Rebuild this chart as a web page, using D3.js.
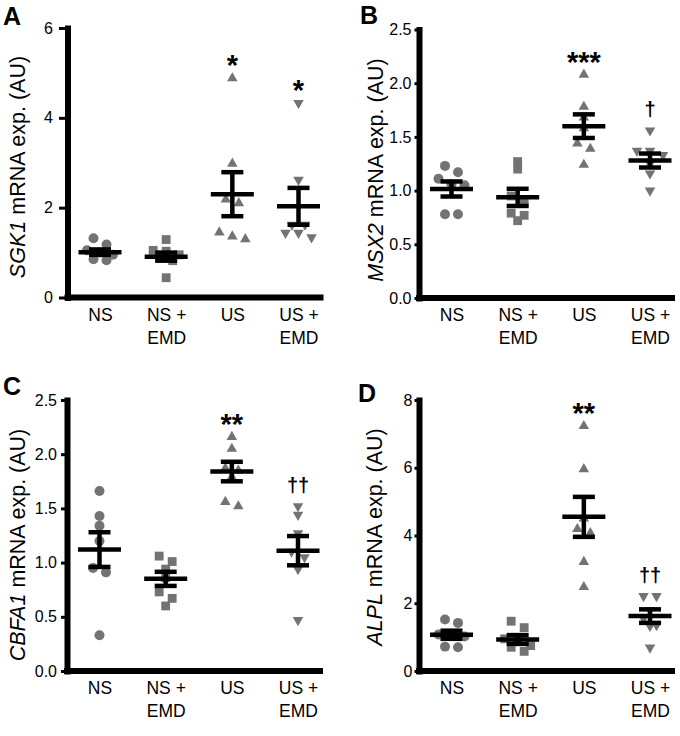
<!DOCTYPE html>
<html>
<head>
<meta charset="utf-8">
<script src="https://cdn.jsdelivr.net/npm/d3@7"></script>
<style>
  body { margin: 0; background: #fff; }
  svg { display: block; font-family: "Liberation Sans", Arial, Helvetica, sans-serif; }
  .domain, .x-line { stroke: #000 !important; stroke-width: 6px !important; stroke-linecap: square; }
  .tick line { stroke: #000; stroke-width: 3px; }
  .err line { stroke: #000; stroke-width: 4.5px; }
</style>
</head>
<body>
<svg width="680" height="736"></svg>
<script>
// groups shared by all four panels
const groups = ["NS", "NS + EMD", "US", "US + EMD"];

// A: SGK1
const sgk1Values = [
    [1.32, 1.18, 1.05, 1.00, 0.95, 0.85, 0.83],
    [1.29, 1.05, 1.03, 0.95, 0.88, 0.82, 0.44],
    [4.88, 2.98, 2.18, 2.10, 1.45, 1.36, 1.30],
    [4.33, 2.62, 1.62, 1.62, 1.44, 1.44, 1.34]
];
const sgk1Mean = [1.01, 0.91, 2.30, 2.03];
const sgk1Sem = [0.06, 0.09, 0.49, 0.41];
const sgk1Marks = ["", "", "*", "*"];
const sgk1Ticks = [0, 2, 4, 6];

// B: MSX2
const msx2Values = [
    [1.23, 1.17, 1.11, 1.06, 1.05, 0.78, 0.78],
    [1.27, 1.20, 0.95, 0.90, 0.79, 0.77, 0.72],
    [2.08, 1.78, 1.68, 1.58, 1.44, 1.39, 1.24],
    [1.56, 1.37, 1.37, 1.33, 1.25, 1.16, 1.00]
];
const msx2Mean = [1.015, 0.937, 1.60, 1.28];
const msx2Sem = [0.07, 0.08, 0.11, 0.065];
const msx2Marks = ["", "", "***", "\u2020"];
const msx2Ticks = [0, 0.5, 1.0, 1.5, 2.0, 2.5];

// C: CBFA1
const cbfa1Values = [
    [1.66, 1.43, 1.34, 1.20, 0.95, 0.91, 0.33],
    [1.06, 1.01, 0.94, 0.86, 0.73, 0.67, 0.60],
    [2.16, 2.05, 1.87, 1.85, 1.79, 1.56, 1.52],
    [1.52, 1.44, 1.27, 1.10, 1.05, 0.94, 0.47]
];
const cbfa1Mean = [1.12, 0.85, 1.84, 1.11];
const cbfa1Sem = [0.16, 0.065, 0.09, 0.135];
const cbfa1Marks = ["", "", "**", "\u2020\u2020"];
const cbfa1Ticks = [0, 0.5, 1.0, 1.5, 2.0, 2.5];

// D: ALPL
const alplValues = [
    [1.52, 1.42, 1.08, 1.05, 1.02, 0.72, 0.70],
    [1.47, 1.28, 0.95, 0.90, 0.75, 0.70, 0.58],
    [7.23, 5.96, 4.50, 4.19, 4.07, 3.22, 2.48],
    [2.21, 2.21, 1.80, 1.55, 1.35, 1.33, 0.69]
];
const alplMean = [1.07, 0.93, 4.55, 1.62];
const alplSem = [0.12, 0.13, 0.59, 0.20];
const alplMarks = ["", "", "**", "\u2020\u2020"];
const alplTicks = [0, 2, 4, 6, 8];

const panels = [
    {letter: "A", gene: "SGK1", values: sgk1Values, mean: sgk1Mean, sem: sgk1Sem, marks: sgk1Marks,
     ticks: sgk1Ticks, fmt: d3.format("d"), max: 6,
     axisX: 67.5, yTop: 28, yBottom: 297.5, letterX: 3, letterY: 25, titleX: 25, titleY: 167, tickSize: 8.5, tickPad: 6},
    {letter: "B", gene: "MSX2", values: msx2Values, mean: msx2Mean, sem: msx2Sem, marks: msx2Marks,
     ticks: msx2Ticks, fmt: d3.format(".1f"), max: 2.5,
     axisX: 419, yTop: 29.5, yBottom: 298, letterX: 360, letterY: 24, titleX: 383, titleY: 170, tickSize: 4.5, tickPad: 3},
    {letter: "C", gene: "CBFA1", values: cbfa1Values, mean: cbfa1Mean, sem: cbfa1Sem, marks: cbfa1Marks,
     ticks: cbfa1Ticks, fmt: d3.format(".1f"), max: 2.5,
     axisX: 67, yTop: 400, yBottom: 671, letterX: 3, letterY: 395, titleX: 25, titleY: 545, tickSize: 6, tickPad: 4},
    {letter: "D", gene: "ALPL", values: alplValues, mean: alplMean, sem: alplSem, marks: alplMarks,
     ticks: alplTicks, fmt: d3.format("d"), max: 8,
     axisX: 419, yTop: 400, yBottom: 671, letterX: 358, letterY: 402, titleX: 382, titleY: 537, tickSize: 4.5, tickPad: 2}
];

const svg = d3.select("svg");
const grey = "#737373";
const spacing = 13;

// downward triangle = rotated d3 triangle
const shapes = [
    {type: d3.symbolCircle, size: 78, rot: 0},
    {type: d3.symbolSquare, size: 78, rot: 0},
    {type: d3.symbolTriangle, size: 48, rot: 0},
    {type: d3.symbolTriangle, size: 48, rot: 180}
];

// place points side by side when they'd overlap (Prism-like)
const dodge = (vals, y) => {
    const order = d3.range(vals.length).sort((a, b) => vals[b] - vals[a]);
    let rows = [];
    order.forEach(i => {
        let row = rows[rows.length - 1];
        if (row && y(vals[i]) - y(vals[row[0]]) < 7) row.push(i);
        else rows.push([i]);
    });
    let out = [];
    rows.forEach(row => {
        row.forEach((i, k) => out.push({v: vals[i], dx: (k - (row.length - 1) / 2) * spacing}));
    });
    return out;
};

panels.forEach(p => {
    let g = svg.append("g");

    let y = d3.scaleLinear()
        .domain([0, p.max])
        .range([p.yBottom, p.yTop]);
    let x = d3.scalePoint()
        .domain(groups)
        .range([p.axisX + 32.5, p.axisX + 231]);

    // panel letter
    g.append("text")
        .attr("x", p.letterX)
        .attr("y", p.letterY)
        .attr("font-size", "25px")
        .attr("font-weight", "bold")
        .text(p.letter);

    // y-axis title
    let title = g.append("text")
        .attr("transform", "translate(" + p.titleX + "," + p.titleY + ") rotate(-90)")
        .attr("text-anchor", "middle")
        .attr("font-size", "21.5px");
    title.append("tspan").attr("font-style", "italic").text(p.gene);
    title.append("tspan").text(" mRNA exp. (AU)");

    // y axis
    let yAxis = g.append("g")
        .attr("transform", "translate(" + p.axisX + ",0)")
        .call(d3.axisLeft(y)
            .tickValues(p.ticks)
            .tickFormat(p.fmt)
            .tickSize(p.tickSize)
            .tickSizeOuter(0)
            .tickPadding(p.tickPad));
    yAxis.selectAll(".tick text")
        .attr("font-size", "16px")
        .attr("font-family", "\"Liberation Sans\", Arial, sans-serif")
        .attr("fill", "#000");

    // x axis line
    g.append("line")
        .attr("class", "x-line")
        .attr("x1", p.axisX)
        .attr("x2", p.axisX + 253)
        .attr("y1", y(0))
        .attr("y2", y(0));

    // x labels, two lines
    let xAxis = g.append("g")
        .attr("transform", "translate(0," + y(0) + ")")
        .call(d3.axisBottom(x).tickSize(0).tickPadding(11));
    xAxis.select(".domain").remove();
    xAxis.selectAll(".tick text")
        .attr("font-size", "17.5px")
        .attr("font-family", "\"Liberation Sans\", Arial, sans-serif")
        .attr("fill", "#000")
        .each(function(d) {
            let t = d3.select(this);
            let parts = d.indexOf("+") > 0 ? [d.split(" + ")[0] + " +", d.split(" + ")[1]] : [d];
            t.text(null);
            parts.forEach((s, i) => {
                t.append("tspan")
                    .attr("x", 0)
                    .attr("dy", i === 0 ? "0.71em" : "1.3em")
                    .text(s);
            });
        });

    // points
    groups.forEach((grp, gi) => {
        let sh = shapes[gi];
        let sym = d3.symbol().type(sh.type).size(sh.size);
        g.append("g")
            .selectAll("path")
            .data(dodge(p.values[gi], y))
            .join("path")
            .attr("d", sym)
            .attr("fill", grey)
            .attr("transform", d => "translate(" + (x(grp) + d.dx) + "," + y(d.v) + ") rotate(" + sh.rot + ")");
    });

    // mean +/- SEM
    let bars = g.append("g")
        .attr("class", "err")
        .selectAll("g")
        .data(groups)
        .join("g");
    bars.append("line")
        .attr("x1", d => x(d) - 21.5)
        .attr("x2", d => x(d) + 21.5)
        .attr("y1", (d, i) => y(p.mean[i]))
        .attr("y2", (d, i) => y(p.mean[i]));
    bars.append("line")
        .attr("x1", d => x(d))
        .attr("x2", d => x(d))
        .attr("y1", (d, i) => y(p.mean[i] + p.sem[i]))
        .attr("y2", (d, i) => y(p.mean[i] - p.sem[i]));
    [1, -1].forEach(s => {
        bars.append("line")
            .attr("x1", d => x(d) - 11)
            .attr("x2", d => x(d) + 11)
            .attr("y1", (d, i) => y(p.mean[i] + s * p.sem[i]))
            .attr("y2", (d, i) => y(p.mean[i] + s * p.sem[i]));
    });

    // significance marks
    g.append("g")
        .selectAll("text")
        .data(groups)
        .join("text")
        .attr("x", d => x(d))
        .attr("y", (d, i) => {
            let top = y(d3.max(p.values[i]));
            let m = p.marks[i];
            return m.indexOf("*") >= 0 ? top - 18 + 15 : top - 20 + 5.5;
        })
        .attr("text-anchor", "middle")
        .attr("font-weight", "bold")
        .attr("font-size", (d, i) => p.marks[i].indexOf("*") >= 0 ? "29px" : "20px")
        .text((d, i) => p.marks[i]);
});
</script>
</body>
</html>
